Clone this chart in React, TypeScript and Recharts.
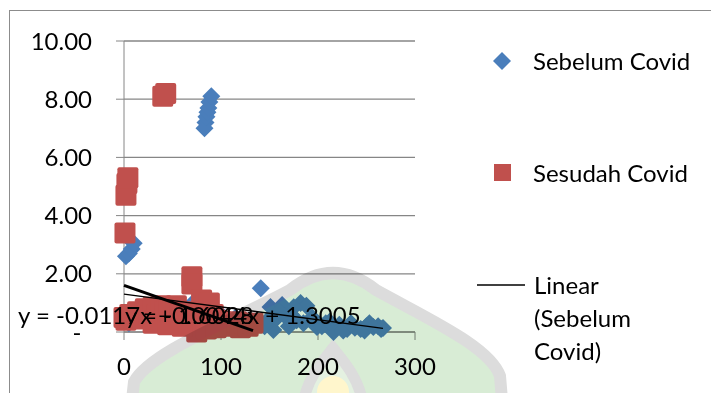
import React from "react";
import { ScatterChart, Scatter, XAxis, YAxis, CartesianGrid } from "recharts";

// Sebelum Covid (blue diamonds)
const sebelumX = [83, 84, 85, 86, 87, 88, 90, 2, 5, 8, 10, 5, 65, 71, 78, 100, 115, 141, 151, 163, 182, 188, 154, 158, 172, 185, 199, 208, 216, 222, 230, 238, 244, 250, 257, 262, 267, 216, 145, 148, 160, 166, 175, 178, 194, 204, 212, 226, 234, 248, 253, 265, 170];
const sebelumY = [7.0, 7.2, 7.4, 7.55, 7.7, 7.9, 8.1, 2.6, 2.7, 2.85, 3.05, 0.3, 0.8, 1.0, 0.9, 0.6, 0.5, 1.5, 0.86, 0.93, 1.0, 0.9, 0.07, 0.5, 0.6, 0.3, 0.17, 0.3, 0.2, 0.25, 0.1, 0.15, 0.1, 0.2, 0.17, 0.2, 0.14, 0.0, 0.2, 0.4, 0.7, 0.55, 0.85, 0.4, 0.5, 0.2, 0.35, 0.05, 0.3, 0.05, 0.3, 0.1, 0.2];

// Sesudah Covid (red squares)
const sesudahX = [40, 43, 1, 2, 3, 4, 70, 70, 0, 2, 6, 10, 14, 18, 22, 26, 30, 34, 38, 42, 46, 50, 54, 58, 62, 66, 72, 76, 80, 84, 88, 92, 96, 100, 104, 108, 112, 116, 120, 124, 128, 133, 75, 60, 85, 30, 45, 95];
const sesudahY = [8.1, 8.2, 3.4, 4.7, 5.1, 5.3, 1.9, 1.65, 0.5, 0.4, 0.6, 0.45, 0.7, 0.5, 0.8, 0.55, 0.85, 0.6, 0.9, 0.7, 0.8, 0.5, 0.9, 0.6, 0.45, 0.7, 0.3, 0.55, 1.1, 0.9, 1.0, 0.6, 0.4, 0.35, 0.25, 0.3, 0.2, 0.35, 0.15, 0.3, 0.2, 0.3, 0.0, 0.2, 0.1, 0.3, 0.25, 0.15];

// trendline equations
const trendSebelum = { slope: -0.0044, intercept: 1.3005 };
const trendSesudah = { slope: -0.0117, intercept: 1.6028 };

const xTicks = [0, 100, 200, 300];
const yTicks = [0, 2, 4, 6, 8, 10];

const sebelum = sebelumX.map((x, i) => ({ x, y: sebelumY[i] }));
const sesudah = sesudahX.map((x, i) => ({ x, y: sesudahY[i] }));

const BLUE = "#4a7ebb";
const RED = "#c0504d";
const GRID = "#868686";
const FONT = "Lato, 'Open Sans', sans-serif";

const Diamond = (props: any) => {
  const { cx, cy } = props;
  const r = 9;
  return <path d={`M${cx},${cy - r}L${cx + r},${cy}L${cx},${cy + r}L${cx - r},${cy}Z`} fill={BLUE} />;
};

const Square = (props: any) => {
  const { cx, cy } = props;
  const s = 21;
  return <rect x={cx - s / 2} y={cy - s / 2} width={s} height={s} rx={2} fill={RED} />;
};

const NoMark = () => <g />;

const YTick = (props: any) => {
  const { x, y, payload } = props;
  if (payload.value === 0) {
    return (
      <text x={x - 15} y={y} dy="0.355em" textAnchor="middle" fill="#000" fontSize={24} fontFamily={FONT}>
        -
      </text>
    );
  }
  return (
    <text x={x} y={y} dy="0.355em" textAnchor="end" fill="#000" fontSize={24} fontFamily={FONT}>
      {payload.value.toFixed(2)}
    </text>
  );
};

function trendPoints(trend: { slope: number; intercept: number }, xs: number[]) {
  const xMax = Math.max(...xs);
  return [
    { x: 0, y: trend.intercept },
    { x: xMax, y: trend.intercept + trend.slope * xMax },
  ];
}

const label = (t: { slope: number; intercept: number }) =>
  `y = ${t.slope.toFixed(4)}x + ${t.intercept.toFixed(4)}`;

export default function App() {
  const textStyle: React.CSSProperties = {
    position: "absolute",
    fontFamily: FONT,
    fontSize: 24,
    color: "#000",
    whiteSpace: "nowrap",
    lineHeight: "33px",
  };
  return (
    <div style={{ position: "fixed", left: 0, top: 0, width: 711, height: 393, overflow: "hidden", background: "#fff" }}>
      <div
        style={{
          position: "absolute",
          left: 9,
          top: 10,
          width: 702,
          height: 383,
          borderLeft: "1.5px solid #8c8c8c",
          borderTop: "1.5px solid #8c8c8c",
          boxSizing: "border-box",
        }}
      />
      <div style={{ position: "absolute", left: 0, top: 0 }}>
        <ScatterChart width={711} height={393} margin={{ top: 41, right: 296, bottom: 31, left: 24 }}>
          <CartesianGrid vertical={false} stroke={GRID} strokeWidth={1.3} />
          <XAxis
            type="number"
            dataKey="x"
            domain={[0, 300]}
            ticks={xTicks}
            height={30}
            stroke={GRID}
            tickSize={8}
            tickMargin={18}
            tick={{ fill: "#000", fontSize: 24, fontFamily: FONT }}
          />
          <YAxis
            type="number"
            dataKey="y"
            domain={[0, 10]}
            ticks={yTicks}
            width={100}
            stroke={GRID}
            tickSize={8}
            tickMargin={24}
            tick={<YTick />}
          />
          <Scatter data={sebelum} shape={<Diamond />} isAnimationActive={false} />
          <Scatter data={sesudah} shape={<Square />} isAnimationActive={false} />
          <Scatter
            data={trendPoints(trendSebelum, sebelumX)}
            line={{ stroke: "#000", strokeWidth: 1.4 }}
            shape={<NoMark />}
            isAnimationActive={false}
          />
          <Scatter
            data={trendPoints(trendSesudah, sesudahX)}
            line={{ stroke: "#000", strokeWidth: 3 }}
            shape={<NoMark />}
            isAnimationActive={false}
          />
        </ScatterChart>
      </div>

      {/* trendline equations */}
      <div style={{ ...textStyle, left: 18, top: 298 }}>{label(trendSesudah)}</div>
      <div style={{ ...textStyle, left: 125, top: 298 }}>{label(trendSebelum)}</div>

      {/* legend */}
      <svg style={{ position: "absolute", left: 470, top: 40 }} width={70} height={260}>
        <path d="M32,12L41,21L32,30L23,21Z" fill={BLUE} />
        <rect x={24} y={124} width={17} height={17} fill={RED} />
        <line x1={7} y1={245} x2={55} y2={245} stroke="#000" strokeWidth={1.4} />
      </svg>
      <div style={{ ...textStyle, left: 533, top: 44 }}>Sebelum Covid</div>
      <div style={{ ...textStyle, left: 533, top: 156 }}>Sesudah Covid</div>
      <div style={{ ...textStyle, left: 534, top: 268 }}>
        Linear
        <br />
        (Sebelum
        <br />
        Covid)
      </div>

      {/* faint background watermark */}
      <svg
        style={{ position: "absolute", left: 0, top: 0, mixBlendMode: "multiply", pointerEvents: "none" }}
        width={711}
        height={393}
      >
        <path
          d="M132,400 L134,382 C150,352 230,322 290,290 Q333,256 376,290 C430,320 490,347 500,376 L502,400 Z"
          fill="#d8ecd5"
          stroke="#dcdcdc"
          strokeWidth={12}
        />
        <path d="M304,400 C308,376 326,357 333,348 C340,357 358,376 362,400" fill="#e4f1e1" stroke="#dcdcdc" strokeWidth={11} />
        <circle cx={333} cy={392} r={16} fill="#fff6cc" />
      </svg>
    </div>
  );
}
